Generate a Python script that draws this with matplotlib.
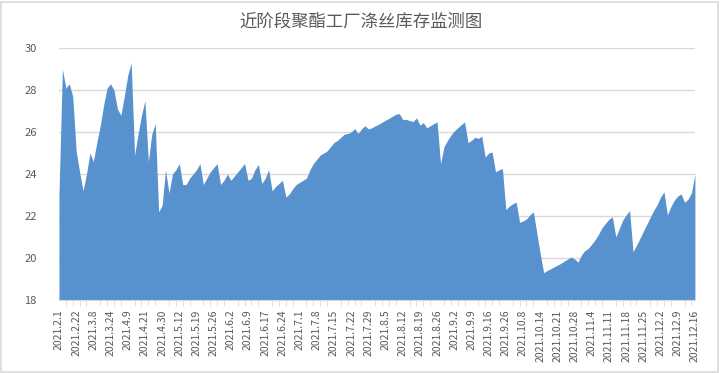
import matplotlib
matplotlib.use("Agg")
from matplotlib import pyplot as plt
from matplotlib.patches import Rectangle
import numpy as np

# stock values, one per category (trading day)
stock = [
    23.0, 29.0, 28.1, 28.3, 27.7, 25.1, 24.1, 23.2, 24.0, 25.0,
    24.6, 25.5, 26.3, 27.3, 28.1, 28.3, 28.0, 27.1, 26.8, 27.7,
    28.7, 29.3, 24.9, 25.9, 26.8, 27.5, 24.6, 25.9, 26.4, 22.2,
    22.5, 24.2, 23.1, 24.0, 24.2, 24.5, 23.5, 23.5, 23.8, 24.0,
    24.2, 24.5, 23.5, 23.8, 24.1, 24.3, 24.5, 23.5, 23.7, 24.0,
    23.7, 23.9, 24.1, 24.3, 24.5, 23.7, 23.8, 24.2, 24.45, 23.55,
    23.8, 24.2, 23.2, 23.4, 23.55, 23.7, 22.9, 23.05, 23.3, 23.5,
    23.6, 23.7, 23.8, 24.2, 24.5, 24.7, 24.9, 25.0, 25.1, 25.3,
    25.5, 25.6, 25.75, 25.9, 25.93, 26.0, 26.17, 25.93, 26.15, 26.3,
    26.15, 26.2, 26.3, 26.37, 26.47, 26.57, 26.65, 26.75, 26.85, 26.88,
    26.6, 26.6, 26.55, 26.5, 26.68, 26.33, 26.45, 26.2, 26.3, 26.4,
    26.48, 24.5, 25.3, 25.6, 25.85, 26.05, 26.2, 26.35, 26.48, 25.5,
    25.6, 25.75, 25.7, 25.8, 24.8, 25.0, 25.05, 24.1, 24.2, 24.25,
    22.3, 22.47, 22.58, 22.66, 21.7, 21.76, 21.86, 22.05, 22.2, 21.2,
    20.2, 19.3, 19.4, 19.48, 19.57, 19.66, 19.74, 19.85, 19.95, 20.04,
    19.95, 19.8, 20.15, 20.35, 20.46, 20.66, 20.87, 21.14, 21.45, 21.65,
    21.85, 21.95, 21.0, 21.4, 21.8, 22.05, 22.25, 20.3, 20.6, 20.93,
    21.27, 21.6, 21.94, 22.26, 22.53, 22.9, 23.15, 22.05, 22.45, 22.75,
    22.95, 23.05, 22.65, 22.8, 23.1, 24.0,
]

date_labels = [
    "2021.2.1", "2021.2.22", "2021.3.8", "2021.3.24", "2021.4.9",
    "2021.4.21", "2021.4.30", "2021.5.12", "2021.5.19", "2021.5.26",
    "2021.6.2", "2021.6.9", "2021.6.17", "2021.6.24", "2021.7.1",
    "2021.7.8", "2021.7.15", "2021.7.22", "2021.7.29", "2021.8.5",
    "2021.8.12", "2021.8.19", "2021.8.26", "2021.9.2", "2021.9.9",
    "2021.9.16", "2021.9.26", "2021.10.8", "2021.10.14", "2021.10.21",
    "2021.10.28", "2021.11.4", "2021.11.11", "2021.11.18", "2021.11.25",
    "2021.12.2", "2021.12.9", "2021.12.16",
]

title = "近阶段聚酯工厂涤丝库存监测图"

plt.rcParams["font.family"] = ["Noto Sans CJK SC", "DejaVu Sans"]

fig = plt.figure(figsize=(7.21, 3.73), dpi=100)
ax = fig.add_axes([0.0818, 0.196, 0.882, 0.675])

x = np.arange(len(stock))
ax.fill_between(x, 18, stock, color="#5892ce", linewidth=0, zorder=2)

ax.set_xlim(0, len(stock) - 1)
ax.set_ylim(18, 30)
ax.set_yticks(range(18, 31, 2))
ax.yaxis.grid(True, color="#d9d9d9", linewidth=1, zorder=0)
ax.set_axisbelow(True)

# a label every 5 categories, a tick mark every 2
label_pos = x[::5]
ax.set_xticks(label_pos)
ax.set_xticklabels(date_labels, rotation=90)
ax.set_xticks(x[::2], minor=True)
ax.tick_params(axis="x", which="major", length=0, pad=7, labelsize=7.5,
               labelcolor="#595959")
ax.tick_params(axis="x", which="minor", length=4, color="#d9d9d9",
               direction="out")
ax.tick_params(axis="y", length=0, pad=16, labelsize=8, labelcolor="#595959")

for s in ["top", "right", "left"]:
    ax.spines[s].set_visible(False)
ax.spines["bottom"].set_color("#d9d9d9")

fig.text(0.5, 0.943, title, ha="center", va="center", fontsize=12.5,
         color="#595959")

fig.patches.append(Rectangle((0.002, 0.004), 0.994, 0.99,
                             transform=fig.transFigure, fill=False,
                             edgecolor="#d9d9d9", linewidth=1.2))

fig.savefig("out.png", dpi=100)
